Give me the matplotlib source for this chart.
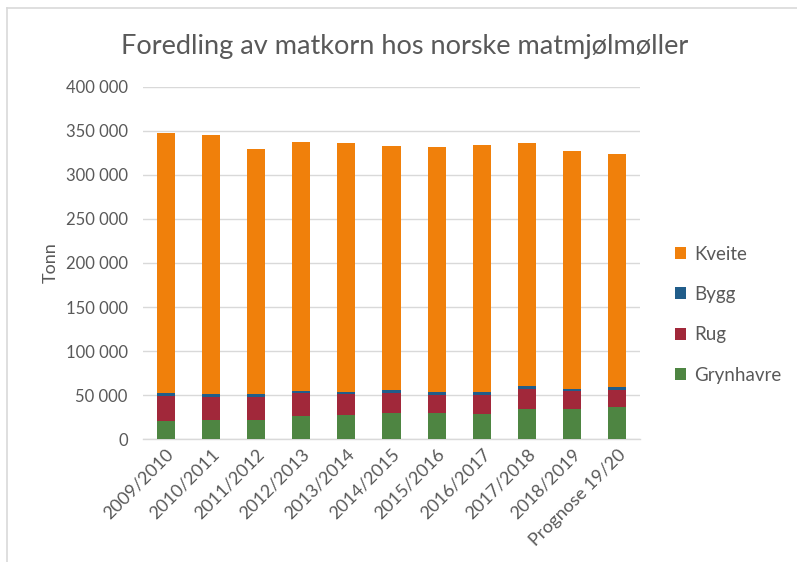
import numpy as np
import matplotlib.pyplot as plt
from matplotlib.lines import Line2D
from matplotlib.ticker import FuncFormatter

plt.rcParams['font.family'] = ['Lato', 'DejaVu Sans']

seasons = ['2009/2010', '2010/2011', '2011/2012', '2012/2013', '2013/2014',
           '2014/2015', '2015/2016', '2016/2017', '2017/2018', '2018/2019',
           'Prognose 19/20']
grynhavre = [21000, 22000, 22000, 26500, 28000, 30000, 30000, 29000, 34500, 34500, 36500]
rug = [28500, 26500, 25500, 25500, 23500, 22000, 20000, 21000, 22500, 20500, 19000]
bygg = [3000, 2500, 3500, 3000, 2500, 3500, 3500, 3500, 3500, 2500, 4000]
kveite = [295000, 294500, 278000, 282500, 282000, 277000, 277500, 280500, 275000, 269000, 263500]

series = [('Grynhavre', grynhavre, '#4E8542'),
          ('Rug', rug, '#A1283A'),
          ('Bygg', bygg, '#215D8A'),
          ('Kveite', kveite, '#F0800B')]

grey = '#595959'

fig = plt.figure(figsize=(7.97, 5.62), dpi=100)
ax = fig.add_axes([0.1794, 0.2183, 0.6236, 0.6277])

x = np.arange(len(seasons))
bottom = np.zeros(len(seasons))
handles = {}
for name, vals, col in series:
    vals = np.array(vals)
    b = ax.bar(x, vals, 0.4, bottom=bottom, color=col, label=name, zorder=3)
    handles[name] = b
    bottom += vals

ax.set_xlim(-0.5, len(seasons) - 0.5)
ax.set_ylim(0, 400000)
ax.set_yticks(np.arange(0, 400001, 50000))
ax.yaxis.set_major_formatter(FuncFormatter(lambda v, p: f'{int(v):,}'.replace(',', ' ')))
ax.grid(axis='y', color='#D9D9D9', linewidth=1, zorder=0)
for s in ['top', 'right', 'left']:
    ax.spines[s].set_visible(False)
ax.spines['bottom'].set_color('#D9D9D9')
ax.spines['bottom'].set_linewidth(1)
ax.tick_params(axis='y', length=0, pad=11, labelsize=12, labelcolor=grey)
ax.tick_params(axis='x', length=0, pad=5, labelsize=13, labelcolor=grey)
ax.set_xticks(x)
ax.set_xticklabels(seasons, rotation=45, ha='right', rotation_mode='anchor')

ax.set_ylabel('Tonn', fontsize=13, color=grey, labelpad=5)
fig.text(0.508, 0.918, 'Foredling av matkorn hos norske matmjølmøller',
         ha='center', va='center', fontsize=19.5, color=grey)

order = ['Kveite', 'Bygg', 'Rug', 'Grynhavre']
leg = fig.legend([handles[n] for n in order], order, loc='center left',
                 bbox_to_anchor=(0.826, 0.44), frameon=False, fontsize=13.5,
                 labelcolor=grey, handlelength=0.6, handleheight=0.6,
                 handletextpad=0.4, labelspacing=1.25)

# outer chart border (left and top)
fig.add_artist(Line2D([0.0094, 0.0094], [0, 0.985], transform=fig.transFigure,
                      color='#D9D9D9', linewidth=1.2))
fig.add_artist(Line2D([0.0094, 1.0], [0.985, 0.985], transform=fig.transFigure,
                      color='#D9D9D9', linewidth=1.2))

fig.savefig('out.png', dpi=100)
